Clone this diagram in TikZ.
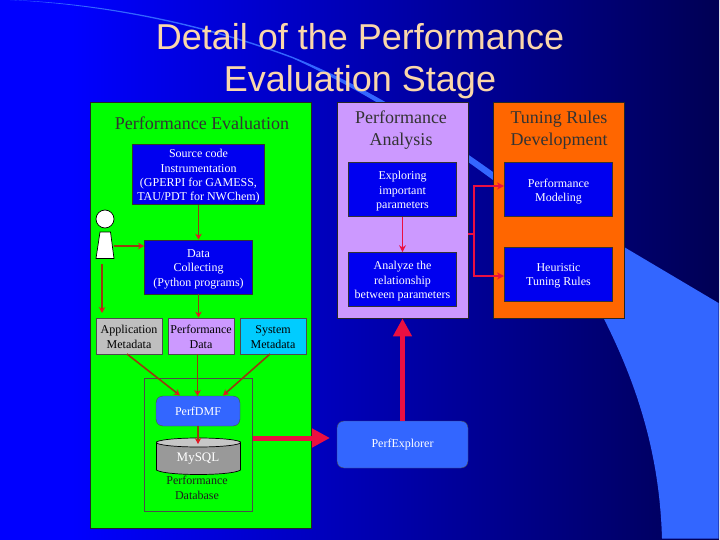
\documentclass[tikz,border=0pt]{standalone}
\usepackage{fontspec}
\setmainfont{Liberation Serif}
\newfontfamily\titlefont{Liberation Sans}
\usetikzlibrary{arrows.meta,shapes.geometric}
\definecolor{swoosh}{RGB}{51,102,255}
\definecolor{boxblue}{RGB}{0,0,240}
\definecolor{lilac}{RGB}{204,153,255}
\definecolor{cyanbox}{RGB}{0,204,255}
\definecolor{orangebox}{RGB}{255,102,0}
\definecolor{arrowred}{RGB}{235,15,65}
\definecolor{headred}{RGB}{225,25,35}
\definecolor{brownred}{RGB}{150,60,15}
\definecolor{titlecol}{RGB}{250,215,170}
\pgfdeclarehorizontalshading{bgshade}{100bp}{color(0bp)=(blue); color(30bp)=(blue); color(97bp)=(black); color(100bp)=(black)}
\newcommand{\fstrut}{\rule{0pt}{12pt}}
\newcommand{\gstrut}{\rule{0pt}{10.5pt}}
\tikzset{
 panel/.style={draw=black!85,line width=0.8pt,inner sep=0pt},
 bluebox/.style={draw=black!80,fill=boxblue,line width=0.7pt,text=white,align=center,font=\fontsize{12}{14.4}\selectfont,inner sep=0pt},
 smallbox/.style={draw=black!70,line width=0.7pt,align=center,font=\fontsize{12}{14.6}\selectfont,inner sep=0pt,minimum width=66pt,minimum height=36pt},
 roundb/.style={draw=black!70,fill=swoosh,rounded corners=7pt,text=white,align=center,font=\fontsize{12}{14.4}\selectfont,inner sep=0pt},
 head/.style={align=center,font=\fontsize{18}{22}\selectfont,text=black!80},
 thinar/.style={draw=brownred,line width=1.6pt,-{Stealth[length=6pt,width=6.5pt,color=headred]}},
 redar/.style={draw=arrowred,line width=1.6pt,-{Stealth[length=7pt,width=7pt]}},
 fatar/.style={draw=arrowred,line width=5pt,-{Triangle[length=18pt,width=18pt]}},
 person/.style={draw=black,fill=white,line width=0.7pt},
 plain/.style={font=\fontsize{12}{14.8}\selectfont,align=center,text=black!88},
}
\begin{document}
\begin{tikzpicture}[x=1pt,y=-1pt]
\useasboundingbox (0,0) rectangle (720,540);
\fill[white] (0,0) rectangle (720,540);
\shade[shading=bgshade] (0,0) rectangle (719,539);
% swoosh
\fill[swoosh] (10,0) .. controls (100,3) and (200,22) .. (293,57) .. controls (360,84) and (420,120) .. (493,172) -- (624,247) -- (718.5,303) -- (718.5,538.5) -- (662,538.5) .. controls (660,470) and (645,400) .. (604,319) .. controls (575,265) and (530,215) .. (493,180) .. controls (425,130) and (362,90) .. (293,58.5) .. controls (200,23.5) and (100,4.5) .. (10,0) -- cycle;
% panels
\node[panel,fill=green,minimum width=221pt,minimum height=426pt] (pe) at (201,315) {};
\node[panel,fill=lilac,minimum width=131pt,minimum height=216pt] (pa) at (402.5,210) {};
\node[panel,fill=orangebox,minimum width=131pt,minimum height=216pt] (tr) at (558.5,210) {};
% title
\node[font=\titlefont\fontsize{36}{42}\selectfont,text=titlecol,align=center] (title) at (360,61) {Detail of the Performance\\Evaluation Stage};
% headings
\node[head] (h1) at (202,123) {Performance Evaluation};
\node[head] (h2) at (401,130) {Performance\\Analysis};
\node[head] (h3) at (559,130) {Tuning Rules\\Development};
% left boxes
\node[bluebox,minimum width=132pt,minimum height=60pt] (src) at (198.5,174.5) {\fstrut Source code\\Instrumentation\\(GPERPI for GAMESS,\\TAU/PDT for NWChem)};
\node[bluebox,minimum width=108pt,minimum height=54pt] (dc) at (198.5,267) {\fstrut Data\\Collecting\\(Python programs)};
\node[smallbox,fill=black!25] (am) at (129,336) {\gstrut Application\\Metadata};
\node[smallbox,fill=lilac] (pd) at (201,336) {\gstrut Performance\\Data};
\node[smallbox,fill=cyanbox] (sm) at (273,336) {\gstrut System\\Metadata};
% person
\node[person,circle,minimum size=18pt,inner sep=0pt] (hd) at (105,219) {};
\draw[person] (100,232) -- (110.5,232) -- (114,258.5) -- (96,258.5) -- cycle;
\coordinate (pr) at (114,246);
\coordinate (pb) at (102,264);
\coordinate (pt) at (102,313);
\coordinate (ps) at (144,246);
% db group
\node[draw=black!70,line width=0.7pt,minimum width=108pt,minimum height=133pt,inner sep=0pt] (grp) at (198.5,444.5) {};
\node[roundb,minimum width=84pt,minimum height=30pt] (dmf) at (198,411) {PerfDMF};
\node[roundb,minimum width=131pt,minimum height=47pt] (pex) at (402.5,444.5) {PerfExplorer};
% cylinder
\draw[draw=black,fill=black!40,line width=0.7pt] (156.5,442) -- (156.5,470) .. controls (165,476) and (232,476) .. (240.5,470) -- (240.5,442) -- cycle;
\draw[draw=black,fill=black!22,line width=0.7pt] (198.5,442.5) ellipse (42pt and 4.5pt);
\node[font=\fontsize{13}{15}\selectfont,text=white] (dbl) at (198,459) {MySQL};
\node[plain,inner sep=0pt] (dbt) at (197,487.5) {Performance\\Database};
\coordinate (dbtop) at (198,444);
% right boxes
\node[bluebox,minimum width=108pt,minimum height=54pt] (ex) at (402.5,189.5) {\fstrut Exploring\\important\\parameters};
\node[bluebox,minimum width=108pt,minimum height=54pt] (an) at (402.5,279.5) {\fstrut Analyze the\\relationship\\between parameters};
\node[bluebox,minimum width=108pt,minimum height=54pt] (pm) at (558.5,189.5) {\fstrut Performance\\Modeling};
\node[bluebox,minimum width=108pt,minimum height=54pt] (ht) at (558.5,274) {\fstrut Heuristic\\Tuning Rules};
% connectors
\draw[thinar] (src) -- (dc);
\draw[thinar] (pr) -- (ps);
\draw[thinar] (pb) -- (pt);
\draw[thinar] (dc) -- (dc |- pd.north);
\coordinate (a1) at (127,354);
\coordinate (a2) at (180,395.5);
\coordinate (a3) at (270,354);
\coordinate (a4) at (223,395.5);
\coordinate (a5) at (197.5,354);
\coordinate (a6) at (197.5,396);
\draw[thinar] (a1) -- (a2);
\draw[thinar] (a5) -- (a6);
\draw[thinar] (a3) -- (a4);
\draw[thinar] (dmf.south) -- (dbtop);
\coordinate (fa) at (330,438);
\draw[fatar] (grp.east |- fa) -- (fa);
\draw[fatar] (pex.north) -- (pa.south);
\draw[redar] (ex) -- (an);
\coordinate (jn) at (474,234);
\coordinate (pmin) at (504,186);
\coordinate (htin) at (504,276);
\draw[redar,-] (pa.east |- jn) -- (jn);
\draw[redar] (jn) |- (pmin);
\draw[redar] (jn) |- (htin);
\end{tikzpicture}
\end{document}
